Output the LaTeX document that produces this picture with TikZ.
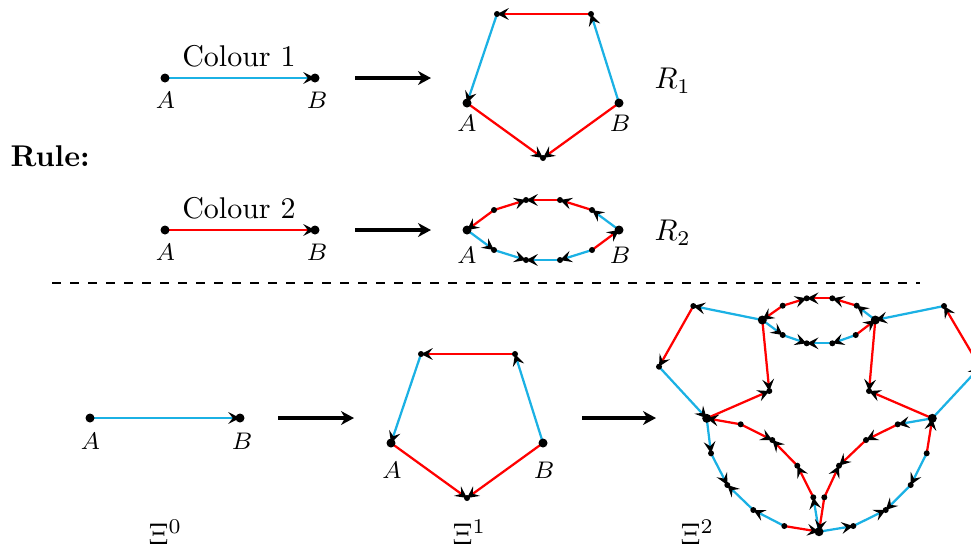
\documentclass[tikz,border=0pt]{standalone}
\usetikzlibrary{arrows.meta}
\definecolor{cy}{RGB}{27,177,228}
\definecolor{rd}{RGB}{255,0,0}
\pgfdeclarelayer{edges}
\pgfsetlayers{edges,main}
\begin{document}
\begin{tikzpicture}[x=0.33333pt,y=-0.33333pt,
  bdot/.style={circle,fill=black,inner sep=0pt,minimum size=3pt},
  sdot/.style={circle,fill=black,inner sep=0pt,minimum size=2pt},
  tip/.style={-{Stealth[length=3.9pt,width=3.9pt,inset=1.5pt,color=black]}},
  ce/.style={cy,line width=0.75pt,tip},
  re/.style={rd,line width=0.75pt,tip},
  bigarrow/.style={line width=1.1pt,-{Stealth[length=4.3pt,width=4.6pt,inset=1.3pt]}},
  lab/.style={font=\footnotesize,inner sep=0pt},
  txt/.style={inner sep=0pt,anchor=base},
]
\useasboundingbox (0,0) rectangle (971,550);

% ---------- Rule 1 ----------
\node[bdot] (ca) at (165,78) {};
\node[bdot] (cb) at (315,78) {};
\node[txt] (c1t) at (239,66.7) {Colour 1};
\node[lab] (cal) at (165.5,100.5) {$A$};
\node[lab] (cbl) at (317,100.5) {$B$};
\coordinate (m1s) at (355,78); \coordinate (m1e) at (431,78);

\node[bdot] (pa) at (467,103) {};
\node[sdot] (pt1) at (497,14) {};
\node[sdot] (pt2) at (591,14) {};
\node[bdot] (pb) at (619,103) {};
\node[sdot] (pbot) at (543,158) {};
\node[lab] (pal) at (467,123) {$A$};
\node[lab] (pbl) at (620,123) {$B$};
\node[txt,anchor=base west] (r1) at (654,88.5) {$R_1$};

\node[txt,anchor=base west,font=\bfseries] (rule) at (10,166) {Rule:};

% ---------- Rule 2 ----------
\node[bdot] (da) at (165,230) {};
\node[bdot] (db) at (315,230) {};
\node[txt] (c2t) at (239,218.7) {Colour 2};
\node[lab] (dal) at (165.5,252.5) {$A$};
\node[lab] (dbl) at (317,252.5) {$B$};
\coordinate (m2s) at (355,230); \coordinate (m2e) at (431,230);

\node[bdot] (ea) at (467,230) {};
\node[bdot] (eb) at (619,230) {};
\node[sdot] (eu1) at (494,210) {};
\node[sdot] (eu2) at (526,200) {};
\node[sdot] (eu3) at (560,200) {};
\node[sdot] (eu4) at (592,210) {};
\node[sdot] (el1) at (494,250) {};
\node[sdot] (el2) at (526,260) {};
\node[sdot] (el3) at (560,260) {};
\node[sdot] (el4) at (592,250) {};
\node[lab] (eal) at (467,255) {$A$};
\node[lab] (ebl) at (620,255) {$B$};
\node[txt,anchor=base west] (r2) at (654,240.5) {$R_2$};

% ---------- separator ----------
\coordinate (sl) at (52,283); \coordinate (sr) at (920,283);
\draw[dashed,line width=0.6pt] (sl) -- (sr);

% ---------- Xi^0 ----------
\node[bdot] (xa) at (90,418) {};
\node[bdot] (xb) at (240,418) {};
\node[lab] (xal) at (90.5,441) {$A$};
\node[lab] (xbl) at (242,441) {$B$};
\coordinate (m3s) at (278,418); \coordinate (m3e) at (354,418);

% ---------- Xi^1 ----------
\node[bdot] (qa) at (391,443) {};
\node[sdot] (qt1) at (421,354) {};
\node[sdot] (qt2) at (515,354) {};
\node[bdot] (qb) at (543,443) {};
\node[sdot] (qbot) at (467,498) {};
\node[lab] (qal) at (392,470) {$A$};
\node[lab] (qbl) at (544,470) {$B$};
\coordinate (m4s) at (582,418); \coordinate (m4e) at (656,418);

% ---------- Xi^2 ----------
\node[bdot] (A2) at (706.7,418.3) {};
\node[bdot] (B2) at (932.3,418.3) {};
\node[bdot] (C2) at (819,531.7) {};
\node[bdot] (T2) at (762.3,320) {};
\node[bdot] (S2) at (875.3,320) {};
\node[sdot] (P1) at (693.3,306) {};
\node[sdot] (P2) at (659,366.7) {};
\node[sdot] (P5) at (769.3,391) {};
\node[sdot] (R1) at (944,306) {};
\node[sdot] (R2) at (980,367) {};
\node[sdot] (P6) at (869,391) {};
\node[sdot] (U1) at (782.7,305.7) {};
\node[sdot] (U2) at (806.7,298.3) {};
\node[sdot] (U3) at (832.3,298.3) {};
\node[sdot] (U4) at (856.7,305.7) {};
\node[sdot] (L1) at (782.7,335) {};
\node[sdot] (L2) at (806.7,343.3) {};
\node[sdot] (L3) at (832.3,343.3) {};
\node[sdot] (L4) at (855.7,335) {};
\node[sdot] (I1) at (740.7,424.3) {};
\node[sdot] (I2) at (772.3,440) {};
\node[sdot] (I3) at (797.3,465.7) {};
\node[sdot] (I4) at (813.3,497.3) {};
\node[sdot] (O1) at (711,453.3) {};
\node[sdot] (O2) at (727.3,485) {};
\node[sdot] (O3) at (753.3,510) {};
\node[sdot] (O4) at (784.3,526) {};
\node[sdot] (J1) at (897.7,424.3) {};
\node[sdot] (J2) at (866,440) {};
\node[sdot] (J3) at (839,465.7) {};
\node[sdot] (J4) at (824.3,497.3) {};
\node[sdot] (Q1) at (926.7,453.3) {};
\node[sdot] (Q2) at (910.7,485) {};
\node[sdot] (Q3) at (885.7,510) {};
\node[sdot] (Q4) at (853.3,526) {};

% ---------- Xi labels ----------
\node[txt,anchor=base west] (x0) at (148,544) {$\Xi^0$};
\node[txt,anchor=base west] (x1) at (452,544) {$\Xi^1$};
\node[txt,anchor=base west] (x2) at (680,544) {$\Xi^2$};

% ================= edges =================
\begin{pgfonlayer}{edges}
\draw[ce] (ca.center) -- (cb.center);
\draw[bigarrow] (m1s) -- (m1e);
\draw[ce] (pt1.center) -- (pa.center);
\draw[re] (pt2.center) -- (pt1.center);
\draw[ce] (pb.center) -- (pt2.center);
\draw[re] (pa.center) -- (pbot.center);
\draw[re] (pb.center) -- (pbot.center);

\draw[re] (da.center) -- (db.center);
\draw[bigarrow] (m2s) -- (m2e);
\draw[re] (eu1.center) -- (ea.center);
\draw[re] (eu1.center) -- (eu2.center);
\draw[re] (eu3.center) -- (eu2.center);
\draw[re] (eu4.center) -- (eu3.center);
\draw[ce] (eb.center) -- (eu4.center);
\draw[ce] (ea.center) -- (el1.center);
\draw[ce] (el1.center) -- (el2.center);
\draw[ce] (el3.center) -- (el2.center);
\draw[ce] (el4.center) -- (el3.center);
\draw[re] (el4.center) -- (eb.center);

\draw[ce] (xa.center) -- (xb.center);
\draw[bigarrow] (m3s) -- (m3e);

\draw[ce] (qt1.center) -- (qa.center);
\draw[re] (qt2.center) -- (qt1.center);
\draw[ce] (qb.center) -- (qt2.center);
\draw[re] (qa.center) -- (qbot.center);
\draw[re] (qb.center) -- (qbot.center);
\draw[bigarrow] (m4s) -- (m4e);

% left pentagon
\draw[ce] (P2.center) -- (A2.center);
\draw[re] (P1.center) -- (P2.center);
\draw[ce] (T2.center) -- (P1.center);
\draw[re] (A2.center) -- (P5.center);
\draw[re] (T2.center) -- (P5.center);
% right pentagon
\draw[ce] (R1.center) -- (S2.center);
\draw[re] (R2.center) -- (R1.center);
\draw[ce] (B2.center) -- (R2.center);
\draw[re] (S2.center) -- (P6.center);
\draw[re] (B2.center) -- (P6.center);
% top ellipse
\draw[re] (U1.center) -- (T2.center);
\draw[re] (U1.center) -- (U2.center);
\draw[re] (U3.center) -- (U2.center);
\draw[re] (U4.center) -- (U3.center);
\draw[ce] (S2.center) -- (U4.center);
\draw[ce] (T2.center) -- (L1.center);
\draw[ce] (L1.center) -- (L2.center);
\draw[ce] (L3.center) -- (L2.center);
\draw[ce] (L4.center) -- (L3.center);
\draw[re] (L4.center) -- (S2.center);
% left bottom ellipse
\draw[re] (I1.center) -- (A2.center);
\draw[re] (I1.center) -- (I2.center);
\draw[re] (I3.center) -- (I2.center);
\draw[re] (I4.center) -- (I3.center);
\draw[ce] (C2.center) -- (I4.center);
\draw[ce] (A2.center) -- (O1.center);
\draw[ce] (O1.center) -- (O2.center);
\draw[ce] (O3.center) -- (O2.center);
\draw[ce] (O4.center) -- (O3.center);
\draw[re] (O4.center) -- (C2.center);
% right bottom ellipse
\draw[re] (J4.center) -- (C2.center);
\draw[re] (J4.center) -- (J3.center);
\draw[re] (J2.center) -- (J3.center);
\draw[re] (J1.center) -- (J2.center);
\draw[ce] (B2.center) -- (J1.center);
\draw[ce] (C2.center) -- (Q4.center);
\draw[ce] (Q4.center) -- (Q3.center);
\draw[ce] (Q2.center) -- (Q3.center);
\draw[ce] (Q1.center) -- (Q2.center);
\draw[re] (Q1.center) -- (B2.center);
\end{pgfonlayer}
\end{tikzpicture}
\end{document}
